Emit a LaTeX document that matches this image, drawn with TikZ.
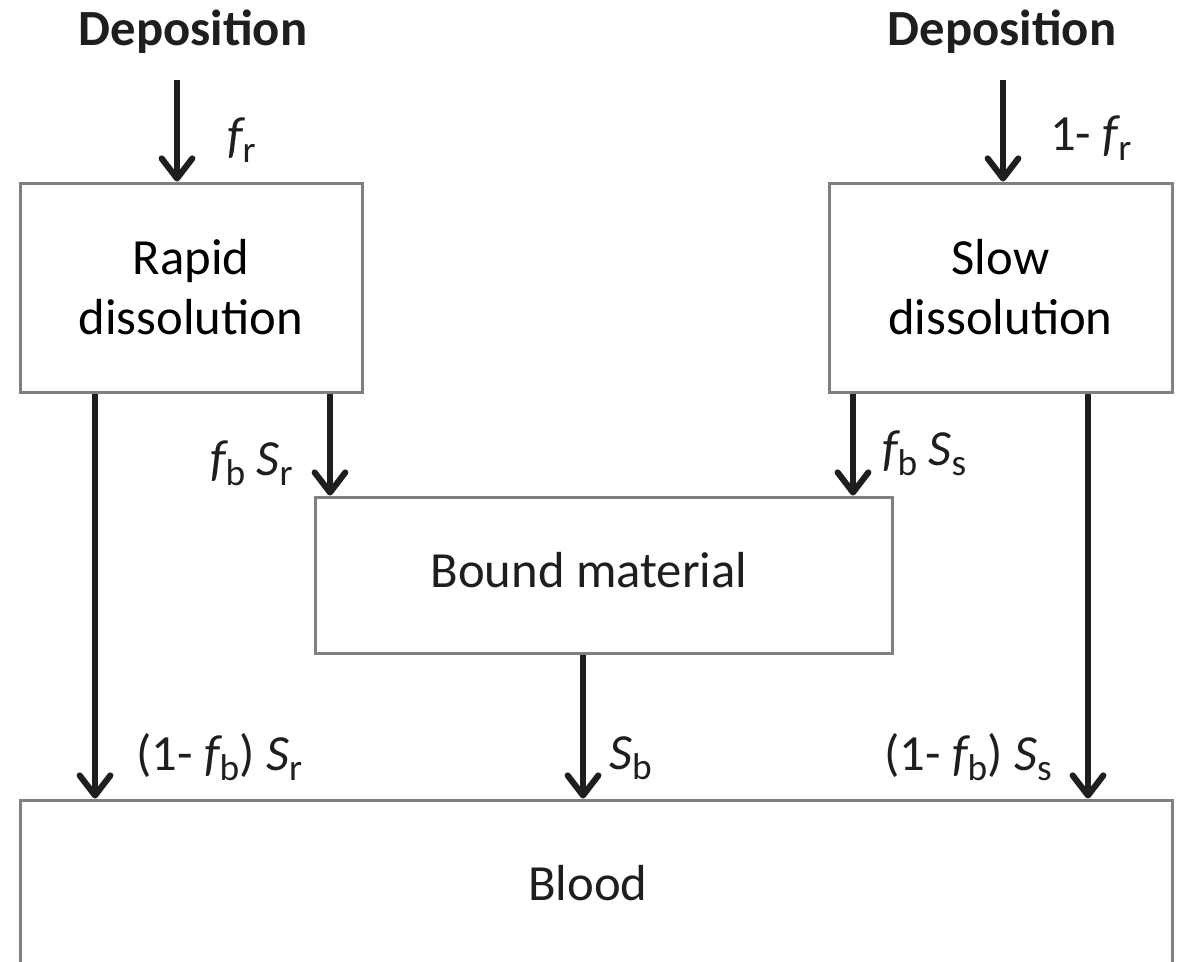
\documentclass[tikz,border=0pt]{standalone}
\usepackage{fontspec}
\setmainfont{Carlito}
\usetikzlibrary{arrows.meta}
\definecolor{boxgray}{RGB}{128,128,128}
\definecolor{ink}{RGB}{30,30,30}
\newcommand{\lsub}[1]{\raisebox{-0.2em}{\fontsize{28}{30}\selectfont #1}}
\newcommand{\ivar}[1]{{\itshape #1}}
\begin{document}
\begin{tikzpicture}[x=0.75pt,y=-0.75pt,
  box/.style={draw=boxgray, line width=2.25pt, inner sep=0pt, align=center,
    font=\fontsize{38}{45}\selectfont},
  arr/.style={line width=4.6pt, ink,
    -{Straight Barb[length=15pt,width=23pt,line cap=round,line join=round]}},
  lab/.style={inner sep=0pt, font=\fontsize{38}{45}\selectfont, ink},
  head/.style={inner sep=0pt, font=\fontsize{38}{45}\selectfont\bfseries, ink},
]
\useasboundingbox (0,0) rectangle (1178,961);
\clip (0,0) rectangle (1178,961);

% boxes
\node[box, minimum width=256.5pt, minimum height=156.75pt] (rapid) at (191,287.5) {Rapid\\dissolution};
\node[box, minimum width=257.25pt, minimum height=156.75pt] (slow) at (1000.5,287.5) {Slow\\dissolution};
\node[box, minimum width=432.75pt, minimum height=117pt] (bound) at (603.5,575) {};
\node[lab] (boundtxt) at (589,570) {Bound material};
\node[box, minimum width=864pt, minimum height=124.5pt] (blood) at (596,883) {};
\node[lab] (bloodtxt) at (588,883) {Blood};

% headings
\node[head] (depL) at (193,32) {Deposition};
\node[head] (depR) at (1002,32) {Deposition};

% arrow x positions
\coordinate (xa) at (177,80);
\coordinate (xb) at (1003,80);
\coordinate (xc) at (330,0);
\coordinate (xd) at (853,0);
\coordinate (xe) at (95,0);
\coordinate (xf) at (583,0);
\coordinate (xg) at (1088,0);

% arrows
\draw[arr] (xa) -- (rapid.north -| xa);
\draw[arr] (xb) -- (slow.north -| xb);
\draw[arr] (rapid.south -| xc) -- (bound.north -| xc);
\draw[arr] (slow.south -| xd) -- (bound.north -| xd);
\draw[arr] (rapid.south -| xe) -- (blood.north -| xe);
\draw[arr] (bound.south -| xf) -- (blood.north -| xf);
\draw[arr] (slow.south -| xg) -- (blood.north -| xg);

% labels
\node[lab, anchor=west] (l1) at (227,140) {\ivar{f}\lsub{r}};
\node[lab, anchor=west] (l2) at (1050,138) {1- \ivar{f}\lsub{r}};
\node[lab, anchor=east] (l3) at (293,463) {\ivar{f}\lsub{b} \ivar{S}\lsub{r}};
\node[lab, anchor=west] (l4) at (882,453) {\ivar{f}\lsub{b} \ivar{S}\lsub{s}};
\node[lab, anchor=west] (l5) at (136,757) {(1- \ivar{f}\lsub{b}) \ivar{S}\lsub{r}};
\node[lab, anchor=west] (l6) at (609,758) {\ivar{S}\lsub{b}};
\node[lab, anchor=west] (l7) at (884,757) {(1- \ivar{f}\lsub{b}) \ivar{S}\lsub{s}};
\end{tikzpicture}
\end{document}
